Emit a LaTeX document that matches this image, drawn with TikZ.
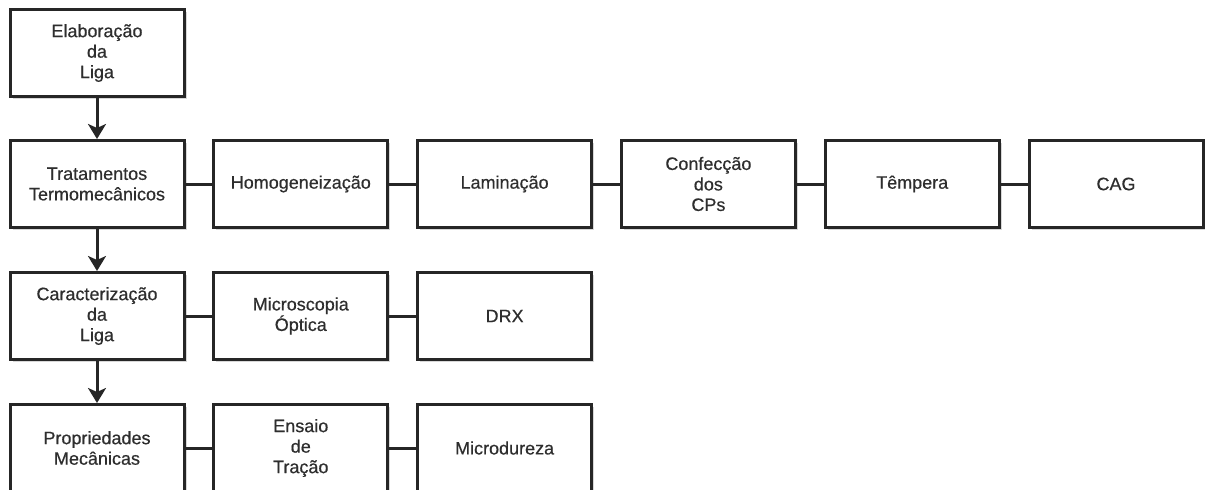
\documentclass[tikz,border=0pt]{standalone}
\usepackage{fontspec}
\setmainfont{Liberation Sans}[FakeBold=0.5]
\usetikzlibrary{arrows.meta,shadows}
\begin{document}
\begin{tikzpicture}[x=1pt,y=-1pt,
  box/.style={draw=black!85, line width=3pt, fill=white, minimum width=174pt, minimum height=87pt,
    align=center, inner sep=2pt, text=black!82,
    font=\fontsize{18}{20.5}\selectfont,
    drop shadow={shadow xshift=2.5pt, shadow yshift=-2.5pt, fill=black!30}},
  conn/.style={draw=black!85, line width=3pt},
  arr/.style={conn, -{Stealth[length=15pt, width=18pt, inset=4pt]}}]
\clip (0,0) rectangle (1205,490);
\fill[white] (0,0) rectangle (1205,490);
% row 1
\node[box] (elab) at (97,53) {Elaboração\\da\\Liga};
% row 2
\node[box] (trat) at (97,184) {Tratamentos\\Termomecânicos};
\node[box] (homo) at (300.8,184) {Homogeneização};
\node[box] (lami) at (504.6,184) {Laminação};
\node[box] (conf) at (708.4,184) {Confecção\\dos\\CPs};
\node[box] (temp) at (912.2,184) {Têmpera};
\node[box] (cag)  at (1116,184) {CAG};
% row 3
\node[box] (cara) at (97,316) {Caracterização\\da\\Liga};
\node[box] (micr) at (300.8,316) {Microscopia\\Óptica};
\node[box] (drx)  at (504.6,316) {DRX};
% row 4
\node[box] (prop) at (97,448) {Propriedades\\Mecânicas};
\node[box] (ensa) at (300.8,448) {Ensaio\\de\\Tração};
\node[box] (mdur) at (504.6,448) {Microdureza};
% arrows
\draw[arr] (elab) -- (trat);
\draw[arr] (trat) -- (cara);
\draw[arr] (cara) -- (prop);
% connectors
\draw[conn] (trat) -- (homo);
\draw[conn] (homo) -- (lami);
\draw[conn] (lami) -- (conf);
\draw[conn] (conf) -- (temp);
\draw[conn] (temp) -- (cag);
\draw[conn] (cara) -- (micr);
\draw[conn] (micr) -- (drx);
\draw[conn] (prop) -- (ensa);
\draw[conn] (ensa) -- (mdur);
\end{tikzpicture}
\end{document}
